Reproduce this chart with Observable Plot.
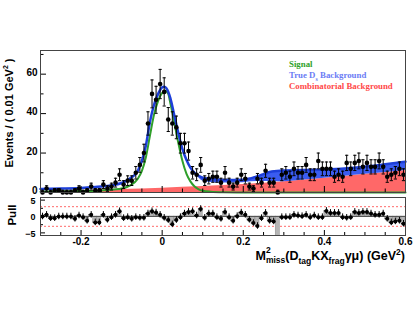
<!DOCTYPE html>
<html><head><meta charset="utf-8">
<script src="https://cdn.jsdelivr.net/npm/d3@7"></script>
<script src="https://cdn.jsdelivr.net/npm/@observablehq/plot@0.6"></script>
<style>
html,body{margin:0;padding:0;background:#fff;}
#wrap{position:relative;width:414px;height:320px;overflow:hidden;font-family:"Liberation Sans",Arial,sans-serif;font-weight:bold;color:#000;}
#top,#pull{position:absolute;left:0;}
#top{top:0;} #pull{top:195px;}
.lab{position:absolute;white-space:nowrap;line-height:1;}
.leg{position:absolute;white-space:nowrap;font-family:"Liberation Serif","Times New Roman",serif;font-weight:bold;font-size:8.8px;line-height:1;}
sub,sup{line-height:0;}
</style></head>
<body>
<div id="wrap">
  <div id="top"></div>
  <div id="pull"></div>
  <div class="lab" id="ytitle" style="left:9px;top:113px;font-size:11px;transform:translate(-50%,-50%) rotate(-90deg);">Events / ( 0.01 GeV<sup style="font-size:7px">2</sup> )</div>
  <div class="lab" id="ptitle" style="left:13px;top:215px;font-size:11.5px;transform:translate(-50%,-50%) rotate(-90deg);">Pull</div>
  <div class="lab" id="xtitle" style="right:9px;top:250px;font-size:12.5px;">M<span style="display:inline-block;position:relative;"><span style="position:absolute;left:0;top:-4px;font-size:8.5px;">2</span><span style="position:relative;top:3px;font-size:8.5px;">miss</span></span>(D<sub style="font-size:8.5px">tag</sub>KX<sub style="font-size:8.5px">frag</sub>&gamma;&mu;) (GeV<sup style="font-size:8.5px">2</sup>)</div>
  <div class="leg" style="left:289px;top:60px;color:#2fa12a;">Signal</div>
  <div class="leg" style="left:289px;top:71px;color:#6b7cf5;">True D<sub style="font-size:6px">s</sub> Background</div>
  <div class="leg" style="left:289px;top:82px;color:#ff4848;">Combinatorial Background</div>
</div>
<script>
// ---- data ----
const xLo = -0.3, binWidth = 0.01;
const counts = [0,2,0,1,1,0,0,0,1,2,
  0,1,3,1,1,4,2,3,5,9,
  4,6,6,10,14,20,35,50,47,55,
  51,37,35,33,25,25,21,10,9,14,
  6,7,8,8,5,10,5,3,5,9,
  7,3,2,7,5,11,5,5,0,9,
  10,8,12,10,10,14,9,9,16,12,
  12,12,8,9,8,15,12,15,16,13,
  15,13,13,16,13,8,9,10,12,9];
const pulls = [0,0.5,-0.5,-0.5,0,0,0,0,-0.7,0.3,
  -0.2,-1.3,0.5,-1.8,-1.8,0.5,-1,-0.2,0.5,1.6,
  -0.5,-0.2,-0.7,-0.2,-0.4,-0.4,0.9,1.6,1.2,0.5,
  -0.4,-1.1,-2.4,-1.1,-0.2,0.9,1.4,1.6,0.3,2.3,
  -0.4,0.9,0.9,-0.2,-0.7,1.4,-0.2,-1.3,0.1,1.2,
  0.5,-1,-2,-2.9,-0.5,1.1,-1.3,-1.5,-9,-0.2,
  -0.2,-0.2,0.5,0.3,0.1,0.5,-0.2,0.3,-0.2,-0.2,
  1.7,1.1,1.1,1.1,-0.2,-0.4,-0.2,1.4,1.1,1.4,
  1.4,0.9,0.5,0.5,0.9,-0.7,-1.8,-1.5,-1.3,-2.2];
const totalX = [-0.3,-0.25,-0.2,-0.15,-0.12,-0.1,-0.08,-0.06,-0.05,-0.04,-0.03,-0.02,-0.01,0,0.005,0.01,0.02,0.03,0.04,0.05,0.06,0.07,0.08,0.09,0.1,0.12,0.15,0.2,0.22,0.25,0.27,0.3,0.35,0.4,0.45,0.5,0.55,0.6];
const totalY = [1.8,2.0,2.3,3.0,3.8,4.8,7,11,16,24,36,44.5,50,53.3,53.6,53,48,39,30,22,16.5,12.5,10,8.5,7.5,6.8,6.4,6.5,7.3,9.3,10.6,11.2,11.4,11.7,12.2,13.1,14.3,15.6];
const sigX = [-0.3,-0.2,-0.15,-0.12,-0.1,-0.08,-0.06,-0.05,-0.04,-0.03,-0.02,-0.01,0,0.008,0.015,0.02,0.03,0.04,0.05,0.06,0.07,0.08,0.09,0.1,0.12,0.15,0.2,0.3,0.6];
const sigY = [0.4,0.7,1.0,1.5,2.0,3.5,7,11,18,29,39.5,46.5,50.5,51.6,50,45.5,35.5,25,16,9.5,5.5,3,1.6,0.9,0.4,0.15,0.05,0,0];
const bandX = [0.09,0.1,0.12,0.15,0.2,0.22,0.25,0.27,0.3,0.35,0.4,0.45,0.5,0.55,0.6];
const bandHigh = [8.5,7.5,6.8,6.4,6.5,7.3,9.3,10.6,11.2,11.4,11.7,12.2,13.1,14.3,15.6];
const bandLow = [7.5,5.8,5.1,4.8,5.0,5.4,5.6,5.6,5.4,6.3,7.2,8.2,9.2,10.2,11.2];
const combX = [-0.3,-0.2,-0.1,0,0.1,0.2,0.3,0.4,0.5,0.6];
const combY = [0.3,0.9,1.5,2.2,3.0,4.0,5.4,7.2,9.2,11.2];
const xTicksMajor = [-0.2,0,0.2,0.4,0.6];
const xTicksMinor = [-0.3,-0.25,-0.15,-0.1,-0.05,0.05,0.1,0.15,0.25,0.3,0.35,0.45,0.5,0.55];
const yTicksMajor = [0,20,40,60];
const yTicksMinor = [10,30,50,70];
const pullTicks = [-5,0,5];
const pullMinor = [-2.5,2.5];
const pullLines = [-3,3];

// ---- tables ----
const bins = counts.map((n,i)=>({
  x: xLo+(i+0.5)*binWidth, x1: xLo+i*binWidth, x2: xLo+(i+1)*binWidth,
  n, lo: n-Math.sqrt(n), hi: n+(n===0?1.15:Math.sqrt(n)),
  pull: pulls[i]
}));
const total = totalX.map((x,i)=>({x, y: totalY[i]}));
const sig = sigX.map((x,i)=>({x, y: sigY[i]}));
const band = bandX.map((x,i)=>({x, lo: bandLow[i], hi: bandHigh[i]}));
const comb = combX.map((x,i)=>({x, y: combY[i]}));

const capSymbol = {draw(ctx){ ctx.moveTo(-1.6,0); ctx.lineTo(1.6,0); }};
const font = {fontFamily:"'Liberation Sans', Arial, sans-serif", fontWeight:"bold", fontSize:"10px", background:"transparent", overflow:"visible"};
const curve = "monotone-x";
const blank = () => "";

const topPlot = Plot.plot({
  width: 414, height: 195,
  marginTop: 50, marginBottom: 3, marginLeft: 40, marginRight: 9,
  style: font,
  x: {domain: [-0.3, 0.6], label: null},
  y: {domain: [0, 72], label: null},
  marks: [
    Plot.areaY(comb, {x:"x", y:"y", fill:"#ff6868", curve}),
    Plot.areaY(band, {x:"x", y1:"lo", y2:"hi", fill:"#3a5cf0", curve}),
    Plot.line(sig, {x:"x", y:"y", stroke:"#2f9f2a", strokeWidth:2, curve}),
    Plot.line(total, {x:"x", y:"y", stroke:"#1d3fd9", strokeWidth:2.5, curve}),
    Plot.ruleX(bins, {x:"x", y1:"lo", y2:"hi", stroke:"#000", strokeWidth:1}),
    Plot.dot(bins, {x:"x", y:"hi", symbol: capSymbol, stroke:"#000", strokeWidth:1, fill:"none"}),
    Plot.dot(bins.filter(d=>d.n>0), {x:"x", y:"lo", symbol: capSymbol, stroke:"#000", strokeWidth:1, fill:"none"}),
    Plot.dot(bins, {x:"x", y:"n", r:2.3, fill:"#000"}),
    Plot.axisX({ticks: xTicksMajor, tickSize: -6, tickFormat: blank, label: null}),
    Plot.axisX({ticks: xTicksMinor, tickSize: -3.5, tickFormat: blank, label: null}),
    Plot.axisY({ticks: yTicksMajor, tickSize: -6, tickFormat: blank, label: null}),
    Plot.axisY({ticks: yTicksMinor, tickSize: -3.5, tickFormat: blank, label: null}),
    Plot.axisY({ticks: yTicksMajor, tickSize: 0, tickPadding: 3, label: null, fontSize: 10, dy: -1.5}),
    Plot.frame({stroke:"#444", strokeWidth:1})
  ]
});
document.getElementById("top").appendChild(topPlot);

const pullPlot = Plot.plot({
  width: 414, height: 65,
  marginTop: 2, marginBottom: 25, marginLeft: 40, marginRight: 9,
  style: font,
  x: {domain: [-0.3, 0.6], label: null},
  y: {domain: [-5.8, 5.8], label: null},
  marks: [
    Plot.ruleY(pullLines, {stroke:"#ff6a6a", strokeWidth:1, strokeDasharray:"2,2"}),
    Plot.rectY(bins, {x1:"x1", x2:"x2", y:"pull", fill:"#b5b5b5", stroke:"#888", strokeWidth:0.5, clip:true}),
    Plot.ruleY([0], {stroke:"#555", strokeWidth:1}),
    Plot.ruleY(bins, {x1:"x1", x2:"x2", y:"pull", stroke:"#000", strokeWidth:1, clip:true}),
    Plot.ruleX(bins, {x:"x", y1: d=>d.pull-1, y2: d=>d.pull+1, stroke:"#000", strokeWidth:1, clip:true}),
    Plot.dot(bins, {x:"x", y:"pull", r:2, fill:"#000", clip:true}),
    Plot.axisX({ticks: xTicksMajor, tickSize: -5, tickFormat: blank, label: null}),
    Plot.axisX({ticks: xTicksMinor, tickSize: -3, tickFormat: blank, label: null}),
    Plot.axisX({ticks: xTicksMajor, tickSize: 0, tickPadding: 2, label: null, fontSize: 10, tickFormat: d => d === 0 ? "0" : String(d)}),
    Plot.axisY({ticks: pullTicks, tickSize: -5, tickFormat: blank, label: null}),
    Plot.axisY({ticks: pullMinor, tickSize: -3, tickFormat: blank, label: null}),
    Plot.axisY({ticks: pullTicks, tickSize: 0, tickPadding: 5, label: null, fontSize: 9, dy: 1}),
    Plot.frame({stroke:"#444", strokeWidth:1})
  ]
});
document.getElementById("pull").appendChild(pullPlot);
</script>
</body></html>
